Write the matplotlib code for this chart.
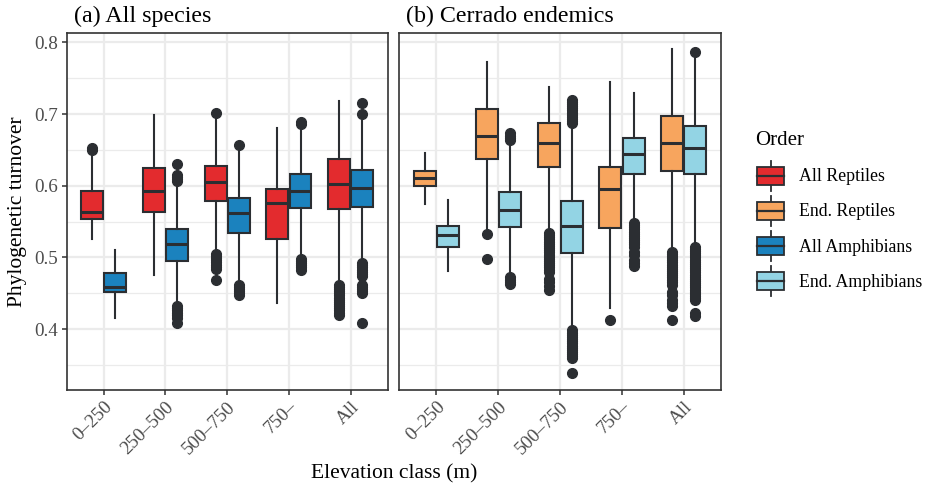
import matplotlib
matplotlib.use("Agg")
import matplotlib.pyplot as plt
from matplotlib.lines import Line2D
from matplotlib.patches import Patch, Rectangle
from matplotlib.legend_handler import HandlerBase
from matplotlib.ticker import MultipleLocator

plt.rcParams['font.family'] = ['Liberation Serif', 'DejaVu Serif']

classes = ["0–250", "250–500", "500–750", "750–", "All"]

# (a) all reptiles
rep_med = [0.564, 0.592, 0.605, 0.576, 0.603]
rep_q1 = [0.553, 0.563, 0.578, 0.526, 0.568]
rep_q3 = [0.592, 0.625, 0.627, 0.596, 0.637]
rep_lo = [0.526, 0.475, 0.508, 0.437, 0.466]
rep_hi = [0.645, 0.699, 0.693, 0.680, 0.718]
rep_out = [
    [0.650, 0.653],
    [],
    [0.701, 0.505, 0.502, 0.499, 0.496, 0.493, 0.490, 0.487, 0.484, 0.469],
    [],
    [0.462, 0.459, 0.456, 0.453, 0.450, 0.447, 0.444, 0.441, 0.438,
     0.435, 0.432, 0.429, 0.426, 0.423, 0.420],
]

# (a) all amphibians
amp_med = [0.459, 0.519, 0.562, 0.593, 0.597]
amp_q1 = [0.452, 0.495, 0.534, 0.569, 0.570]
amp_q3 = [0.478, 0.540, 0.583, 0.616, 0.622]
amp_lo = [0.416, 0.435, 0.465, 0.502, 0.497]
amp_hi = [0.510, 0.603, 0.648, 0.682, 0.690]
amp_out = [
    [],
    [0.630, 0.615, 0.612, 0.609, 0.606,
     0.432, 0.429, 0.426, 0.423, 0.420, 0.416, 0.409],
    [0.657, 0.462, 0.459, 0.456, 0.453, 0.450, 0.447],
    [0.686, 0.689, 0.498, 0.495, 0.492, 0.489, 0.486, 0.483],
    [0.715, 0.700, 0.492, 0.489, 0.486, 0.483, 0.480, 0.477, 0.474,
     0.462, 0.459, 0.456, 0.453, 0.450, 0.408],
]

# (b) endemic reptiles
er_med = [0.611, 0.670, 0.660, 0.595, 0.660]
er_q1 = [0.600, 0.637, 0.626, 0.541, 0.620]
er_q3 = [0.621, 0.707, 0.687, 0.626, 0.697]
er_lo = [0.574, 0.539, 0.537, 0.429, 0.512]
er_hi = [0.645, 0.773, 0.738, 0.745, 0.790]
er_out = [
    [],
    [0.532, 0.498],
    [0.534, 0.531, 0.528, 0.525, 0.522, 0.519, 0.516, 0.513, 0.510,
     0.507, 0.504, 0.501, 0.498, 0.495, 0.492, 0.489, 0.486, 0.483,
     0.480, 0.470, 0.465, 0.460, 0.455],
    [0.412],
    [0.508, 0.505, 0.502, 0.499, 0.496, 0.493, 0.490, 0.487, 0.484,
     0.481, 0.478, 0.475, 0.472, 0.469, 0.466, 0.462, 0.452, 0.448,
     0.440, 0.436, 0.432, 0.412],
]

# (b) endemic amphibians
ea_med = [0.531, 0.566, 0.544, 0.644, 0.653]
ea_q1 = [0.515, 0.542, 0.506, 0.617, 0.616]
ea_q3 = [0.544, 0.591, 0.579, 0.666, 0.683]
ea_lo = [0.481, 0.475, 0.401, 0.551, 0.518]
ea_hi = [0.580, 0.660, 0.681, 0.729, 0.781]
ea_out = [
    [],
    [0.664, 0.667, 0.670, 0.673, 0.472, 0.469, 0.466, 0.463],
    [0.720, 0.717, 0.714, 0.711, 0.708, 0.705, 0.702, 0.699, 0.696,
     0.693, 0.690, 0.687, 0.398, 0.395, 0.392, 0.389, 0.386, 0.383,
     0.380, 0.377, 0.374, 0.371, 0.368, 0.365, 0.362, 0.359, 0.339],
    [0.548, 0.545, 0.542, 0.539, 0.536, 0.533, 0.530, 0.527, 0.524,
     0.521, 0.518, 0.515, 0.508, 0.503, 0.497, 0.492, 0.488],
    [0.786, 0.515, 0.512, 0.509, 0.506, 0.503, 0.500, 0.497, 0.494,
     0.491, 0.488, 0.485, 0.482, 0.479, 0.476, 0.473, 0.470, 0.467,
     0.464, 0.461, 0.458, 0.455, 0.452, 0.449, 0.446, 0.443, 0.440,
     0.422, 0.418],
]

order_labels = ["All Reptiles", "End. Reptiles", "All Amphibians", "End. Amphibians"]
order_colors = ["#E32B2E", "#F7A55E", "#1B82BE", "#93D4E4"]
edge = "#2B2E32"
grid_col = "#EBEBEB"


def box_stats(med, q1, q3, lo, hi, out):
    return [dict(med=m, q1=a, q3=b, whislo=l, whishi=h, fliers=f)
            for m, a, b, l, h, f in zip(med, q1, q3, lo, hi, out)]


def draw_panel(ax, series, colors):
    offsets = [-0.1875, 0.1875]
    for (stats, col), off in zip(zip(series, colors), offsets):
        pos = [i + 1 + off for i in range(len(classes))]
        ax.bxp(stats, positions=pos, widths=0.355, patch_artist=True,
               showcaps=False,
               boxprops=dict(facecolor=col, edgecolor=edge, linewidth=1.5),
               medianprops=dict(color=edge, linewidth=2.2),
               whiskerprops=dict(color=edge, linewidth=1.5),
               flierprops=dict(marker='o', markerfacecolor=edge,
                               markeredgecolor=edge, markersize=7))
    ax.set_xlim(0.4, 5.6)
    ax.set_ylim(0.315, 0.813)
    ax.set_xticks(range(1, 6))
    ax.set_xticklabels(classes, rotation=45, ha='right', va='top',
                       rotation_mode='anchor')
    ax.yaxis.set_major_locator(MultipleLocator(0.1))
    ax.yaxis.set_minor_locator(MultipleLocator(0.05))
    ax.grid(which='major', color=grid_col, linewidth=1.6)
    ax.grid(which='minor', axis='y', color=grid_col, linewidth=0.9)
    ax.set_axisbelow(True)
    for sp in ax.spines.values():
        sp.set_color("#333333")
        sp.set_linewidth(1.2)
    ax.tick_params(axis='both', which='major', color="#333333", length=3.5,
                   width=1.1, labelsize=13.8, labelcolor="#4D4D4D", pad=2.5)
    ax.tick_params(axis='y', which='minor', length=0)


class BoxKey(HandlerBase):
    def create_artists(self, legend, orig_handle, xdescent, ydescent,
                       width, height, fontsize, trans):
        x0, y0 = -xdescent, -ydescent
        cx = x0 + width / 2
        face = orig_handle.get_facecolor()
        box = Rectangle((x0, y0 + 0.2 * height), width, 0.6 * height,
                        facecolor=face, edgecolor=edge, linewidth=1.3,
                        transform=trans)
        med = Line2D([x0, x0 + width], [y0 + 0.5 * height] * 2,
                     color=edge, linewidth=1.6, transform=trans)
        w_lo = Line2D([cx, cx], [y0, y0 + 0.2 * height], color=edge,
                      linewidth=1.3, transform=trans)
        w_hi = Line2D([cx, cx], [y0 + 0.8 * height, y0 + height], color=edge,
                      linewidth=1.3, transform=trans)
        return [w_lo, w_hi, box, med]


fig = plt.figure(figsize=(9.32, 4.86), dpi=100)
ax_a = fig.add_axes([66.7 / 932, 96 / 486, 321 / 932, 357 / 486])
ax_b = fig.add_axes([399.3 / 932, 96 / 486, 321.7 / 932, 357 / 486])

draw_panel(ax_a,
           [box_stats(rep_med, rep_q1, rep_q3, rep_lo, rep_hi, rep_out),
            box_stats(amp_med, amp_q1, amp_q3, amp_lo, amp_hi, amp_out)],
           [order_colors[0], order_colors[2]])
draw_panel(ax_b,
           [box_stats(er_med, er_q1, er_q3, er_lo, er_hi, er_out),
            box_stats(ea_med, ea_q1, ea_q3, ea_lo, ea_hi, ea_out)],
           [order_colors[1], order_colors[3]])
ax_b.tick_params(axis='y', which='both', left=False, labelleft=False)

for ax, title in [(ax_a, "(a) All species"), (ax_b, "(b) Cerrado endemics")]:
    ax.annotate(title, xy=(0, 1), xycoords='axes fraction',
                xytext=(5, 7.6), textcoords='offset points',
                fontsize=17.3, ha='left', va='baseline')

fig.text(18 / 932, 1 - 211.7 / 486, "Phylogenetic turnover", rotation=90,
         fontsize=15.5, ha='center', va='center')
fig.text(394 / 932, 1 - 478 / 486, "Elevation class (m)", fontsize=15.5,
         ha='center', va='baseline')

# legend title drawn on its own so the gap above the keys can be set
fig.text(755 / 932, 1 - 145 / 486, "Order", fontsize=15,
         ha='left', va='baseline')
handles = [Patch(facecolor=c, label=l) for c, l in zip(order_colors, order_labels)]
fig.legend(handles=handles, loc='upper left',
           bbox_to_anchor=(748 / 932, 1 - 152 / 486), frameon=False,
           fontsize=12.8, borderpad=0,
           handlelength=1.55, handleheight=2.2, labelspacing=0.3,
           handletextpad=0.8, handler_map={Patch: BoxKey()})

fig.savefig("out.png", dpi=100)
